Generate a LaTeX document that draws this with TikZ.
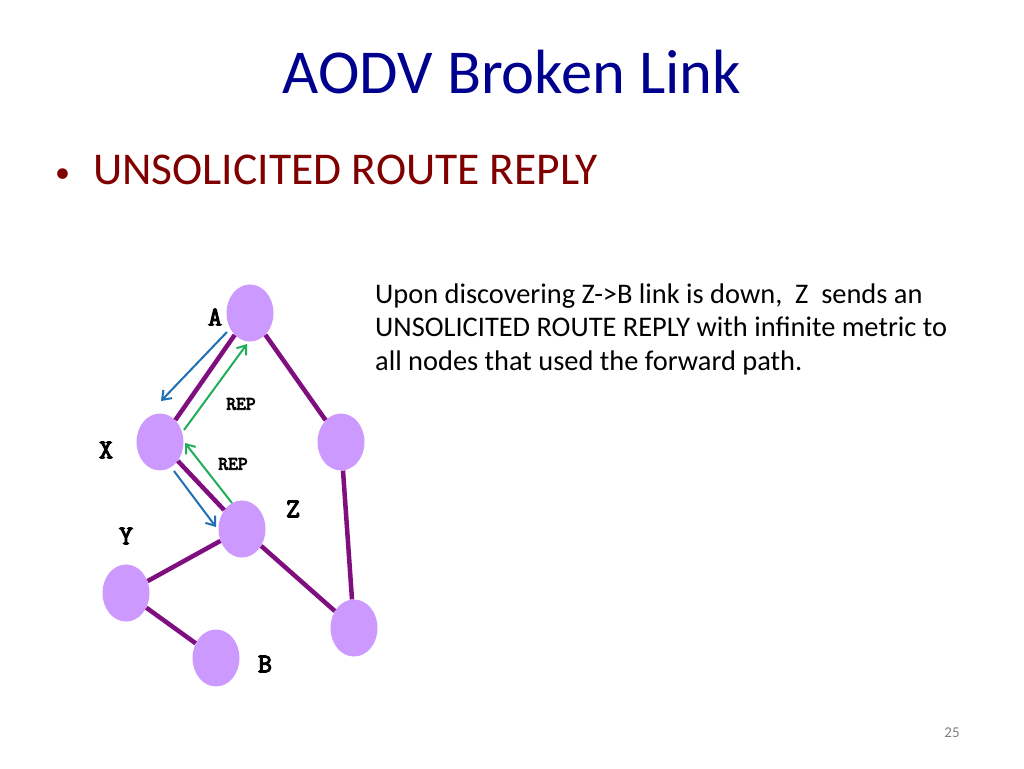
\documentclass[tikz,border=0pt]{standalone}
\usepackage{fontspec}
\setmainfont{Carlito}
\newfontfamily\labfont{Latin Modern Mono}[FakeBold=4]
\usetikzlibrary{arrows.meta,calc,shapes.geometric}
\definecolor{titleblue}{HTML}{00008F}
\definecolor{bulletred}{HTML}{800000}
\definecolor{nodefill}{HTML}{CC99FF}
\definecolor{linkpurple}{HTML}{7F0F7F}
\definecolor{arrblue}{HTML}{1F6FB5}
\definecolor{arrgreen}{HTML}{1FAF5A}
\definecolor{pagegray}{HTML}{808080}
\tikzset{
  netnode/.style={ellipse, fill=nodefill, minimum width=47pt, minimum height=57pt, inner sep=0pt},
  link/.style={draw=linkpurple, line width=4.5pt},
  msgblue/.style={draw=arrblue, line width=2pt, -{Straight Barb[length=8pt,width=12pt,line width=2pt]}},
  msggreen/.style={draw=arrgreen, line width=2pt, -{Straight Barb[length=8pt,width=12pt,line width=2pt]}},
  nlabel/.style={font=\labfont\fontsize{27}{27}\selectfont, anchor=center},
  replabel/.style={font=\labfont\fontsize{19}{19}\selectfont, anchor=center},
}
\begin{document}
\begin{tikzpicture}[x=1pt,y=-1pt]
\useasboundingbox[fill=white] (0,0) rectangle (1024,768);
% texts
\node[anchor=base, text=titleblue, font=\fontsize{62.5}{62.5}\selectfont, inner sep=0pt] (title) at (512,93) {AODV Broken Link};
\node[anchor=base west, text=bulletred, font=\fontsize{30}{30}\selectfont, inner sep=0pt] (bul) at (55,182) {•};
\node[anchor=base west, text=bulletred, font=\fontsize{45.5}{45.5}\selectfont, inner sep=0pt] (sub) at (93,184) {UNSOLICITED ROUTE REPLY};
\node[anchor=base west, align=left, font=\fontsize{28.4}{33.5}\selectfont, inner sep=0pt] (para) at (375,370)
  {Upon discovering Z->B link is down,\ \ Z\ \ sends an\\UNSOLICITED ROUTE REPLY with infinite metric to\\all nodes that used the forward path.};
\node[anchor=center, text=pagegray, font=\fontsize{15}{15}\selectfont] (pg) at (952,733) {25};
% network nodes
\node[netnode] (A) at (250,313) {};
\node[netnode] (X) at (160,442) {};
\node[netnode] (W1) at (341,442) {};
\node[netnode] (Z) at (242,529) {};
\node[netnode] (Y) at (126,593) {};
\node[netnode] (B) at (216,658) {};
\node[netnode] (W2) at (354,628) {};
% links
\draw[link] (A) -- (X);
\draw[link] (A) -- (W1);
\draw[link] (W1) -- (W2);
\draw[link] (X) -- (Z);
\draw[link] (Z) -- (Y);
\draw[link] (Z) -- (W2);
\draw[link] (Y) -- (B);
% messages
\coordinate (bx1) at ($(X)+(1,-41)$);
\coordinate (ga1) at ($(A)+(-3,31)$);
\coordinate (bz1) at ($(Z)+(-26,-2)$);
\coordinate (gx1) at ($(X)+(25,1)$);
\draw[msgblue] ($(A)+(-23,19)$) -- (bx1);
\draw[msggreen] ($(X)+(24,-12)$) -- (ga1);
\draw[msgblue] ($(X)+(14,29)$) -- (bz1);
\draw[msggreen] ($(Z)+(-10,-26)$) -- (gx1);
% labels
\node[nlabel] (lA) at (215,317) {A};
\node[nlabel] (lX) at (106,450) {X};
\node[nlabel] (lY) at (126,536) {Y};
\node[nlabel] (lZ) at (293,509) {Z};
\node[nlabel] (lB) at (265,664) {B};
\node[replabel] (r1) at (241,404) {REP};
\node[replabel] (r2) at (233,464) {REP};
\end{tikzpicture}
\end{document}
